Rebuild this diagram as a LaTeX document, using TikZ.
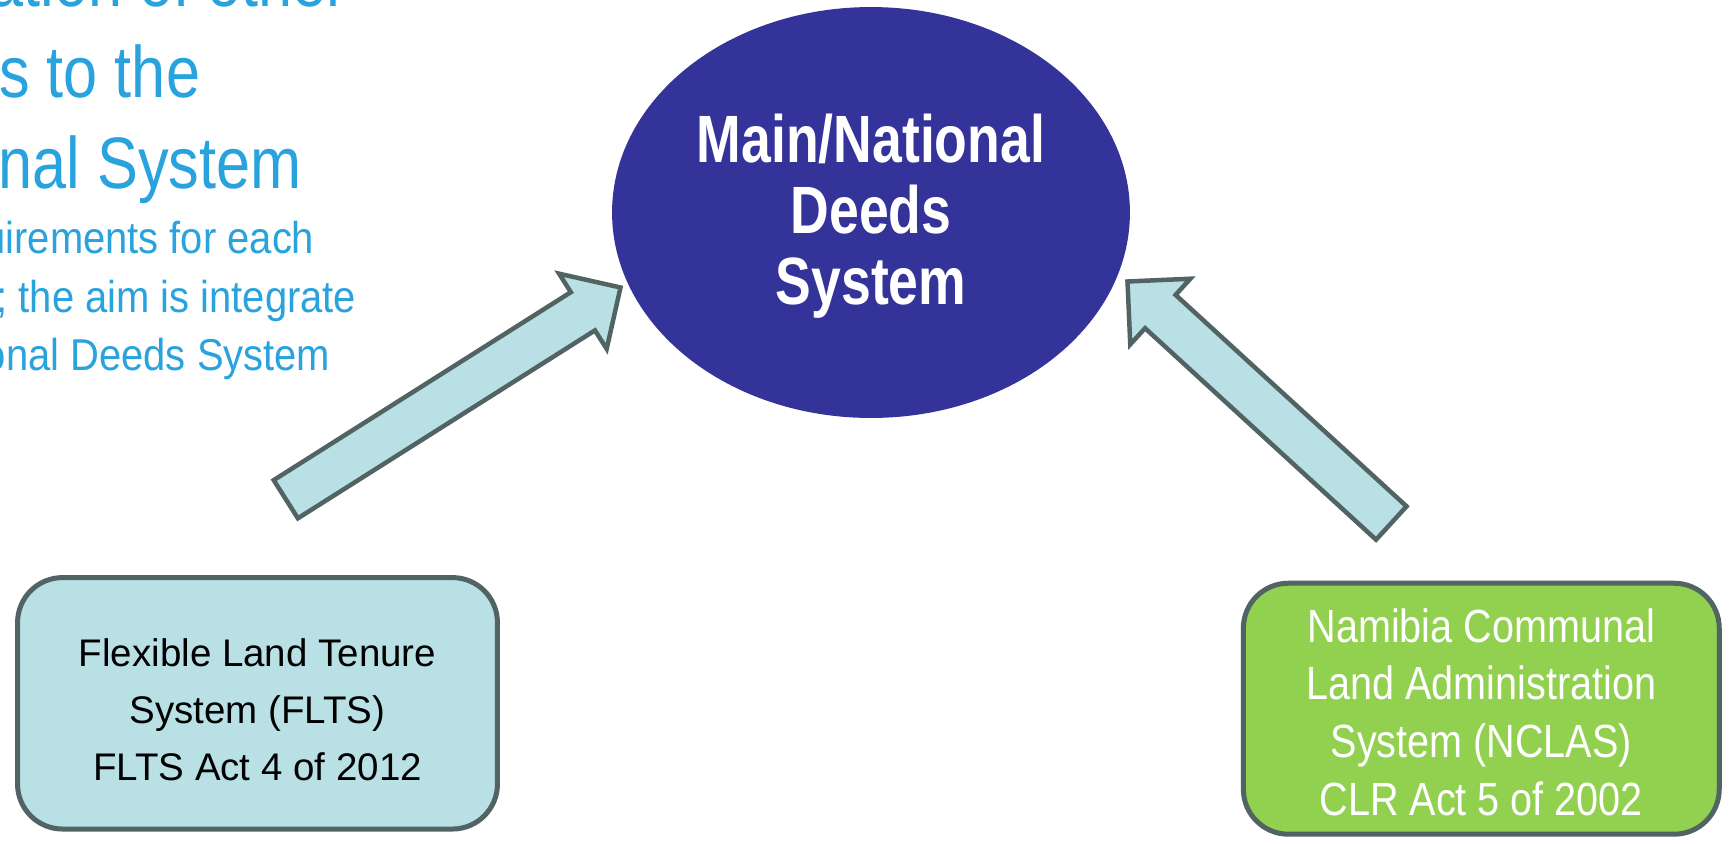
\documentclass[tikz,border=0pt]{standalone}
\usepackage{fontspec}
\setmainfont{Liberation Sans}
\newfontfamily\titlefont[FakeStretch=0.84]{Liberation Sans}
\newfontfamily\notefont[FakeStretch=0.895]{Liberation Sans}
\newfontfamily\hubfont[FakeStretch=0.80]{Liberation Sans}
\newfontfamily\nclasfont[FakeStretch=0.85]{Liberation Sans}
\usetikzlibrary{calc,shapes.geometric}

\definecolor{titleblue}{RGB}{41,163,221}
\definecolor{hubblue}{RGB}{52,51,153}
\definecolor{paleaqua}{RGB}{185,224,228}
\definecolor{slateline}{RGB}{82,99,99}
\definecolor{leafgreen}{RGB}{146,208,80}

\newcommand{\fatarrow}[2]{%
	\coordinate (#1-neck) at ($(#2)!0.89cm!(#1)$);
	\draw[fatarrowline] ($(#1)!0.452cm!90:(#2)$) -- ($(#1-neck)!0.452cm!90:(#2)$)
		-- ($(#1-neck)!0.89cm!90:(#2)$) -- (#2) -- ($(#1-neck)!0.89cm!-90:(#2)$)
		-- ($(#1-neck)!0.452cm!-90:(#2)$) -- ($(#1)!0.452cm!-90:(#2)$) -- cycle;
}

\begin{document}
\begin{tikzpicture}[x=0.02cm,y=-0.02cm,
	headline/.style={text=titleblue,inner sep=0,anchor=base east,font=\titlefont\fontsize{41.5}{50}\selectfont},
	noteline/.style={text=titleblue,inner sep=0,anchor=base east,font=\notefont\fontsize{25.4}{33}\selectfont},
	hubshape/.style={ellipse,fill=hubblue,inner sep=0,minimum width=10.36cm,minimum height=8.22cm},
	hubtext/.style={text=white,align=center,inner sep=0,font=\hubfont\bfseries\fontsize{38.1}{40.4}\selectfont},
	fltsbox/.style={draw=slateline,line width=0.1cm,fill=paleaqua,rounded corners=0.9cm,minimum width=9.6cm,minimum height=5.03cm},
	fltstext/.style={text=black,align=center,inner sep=0,font=\fontsize{21.9}{32.6}\selectfont},
	nclasbox/.style={draw=slateline,line width=0.1cm,fill=leafgreen,rounded corners=0.9cm,minimum width=9.52cm,minimum height=5.02cm},
	nclastext/.style={text=white,align=center,inner sep=0,font=\nclasfont\fontsize{26.5}{32.8}\selectfont},
	fatarrowline/.style={draw=slateline,line width=0.09cm,fill=paleaqua}]
	\useasboundingbox (0,0) rectangle (1729,843);
	\clip (0,0) rectangle (1729,843);
	\fill[white] (0,0) rectangle (1729,843);
	
	\node[headline] (head1) at (347.5,6.5) {ation of other};
	\node[headline] (head2) at (200.5,97) {s to the};
	\node[headline] (head3) at (302,188.3) {nal System};
	\node[noteline] (note1) at (314.6,253.3) {uirements for each};
	\node[noteline] (note2) at (356.6,312) {; the aim is integrate};
	\node[noteline] (note3) at (330.6,370) {onal Deeds System};
	
	\coordinate (fltstail) at (285.8,499.2);
	\coordinate (fltstip) at (620.5,287.5);
	\coordinate (nclastail) at (1391.3,523);
	\coordinate (nclastip) at (1127.5,281.5);
	\fatarrow{fltstail}{fltstip}
	\fatarrow{nclastail}{nclastip}
	
	\node[hubshape] (hub) at (871,212.5) {};
	\node[hubtext] (hublabel) at ($(hub.center)+(0,3.5)$) {Main/National\\Deeds\\System};
	
	\node[fltsbox] (flts) at (257.5,703.3) {};
	\node[fltstext] (fltslabel) at ($(flts.center)+(0,6.4)$) {Flexible Land Tenure\\System (FLTS)\\FLTS Act 4 of 2012};
	
	\node[nclasbox] (nclas) at (1481.3,708.7) {};
	\node[nclastext] (nclaslabel) at ($(nclas.center)+(0,3.3)$) {Namibia Communal\\Land Administration\\System (NCLAS)\\CLR Act 5 of 2002};
\end{tikzpicture}
\end{document}
